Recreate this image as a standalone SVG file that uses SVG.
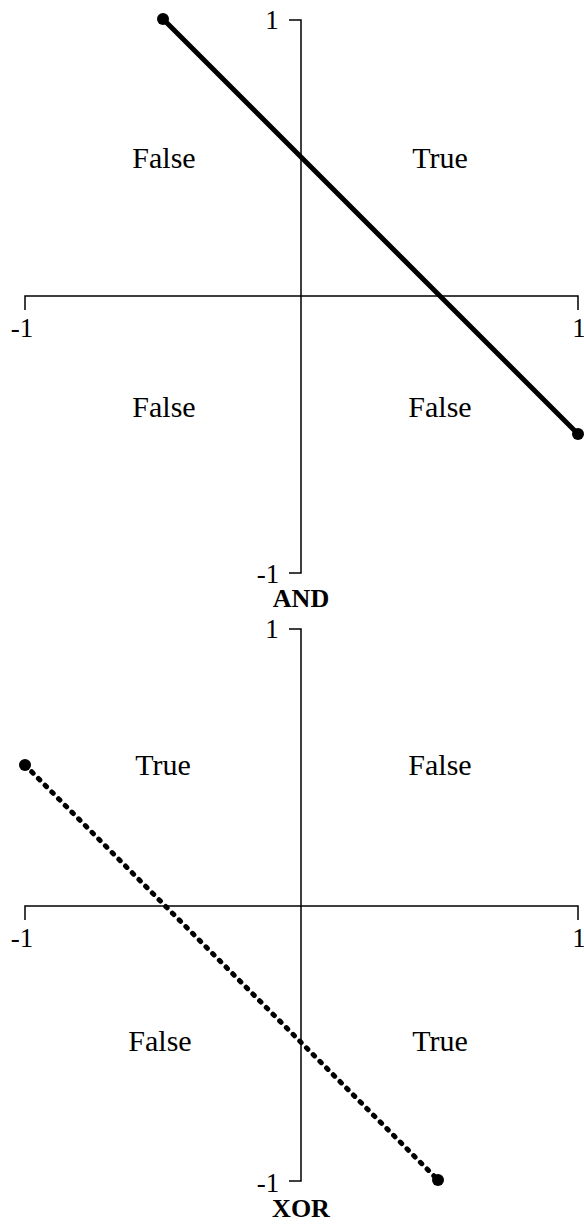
<svg xmlns="http://www.w3.org/2000/svg" width="584" height="1228" viewBox="0 0 584 1228">
<style>
.ax{fill:none;stroke:#000;stroke-width:1.5}
.t{font-family:"Liberation Serif","Times New Roman",serif;fill:#000;text-anchor:middle}
.n{font-size:27px}
.q{font-size:30px}
.b{font-size:26px;font-weight:bold}
.sol{stroke:#000;stroke-width:5;fill:none}
.dot{stroke:#000;stroke-width:5;stroke-dasharray:2 7.5;stroke-linecap:round;fill:none}
</style>
<rect width="584" height="1228" fill="#fff"/>
<g id="and-panel">
<g id="and-axes">
<path class="ax" d="M289 20H301V573H289"/>
<path class="ax" d="M25 310V296H578V310"/>
</g>
<text class="t n" x="272" y="29">1</text>
<text class="t n" x="22" y="337">-1</text>
<text class="t n" x="579" y="337">1</text>
<text class="t n" x="268" y="583">-1</text>
<text class="t b" x="301" y="607">AND</text>
<text class="t q" x="164" y="168">False</text>
<text class="t q" x="440" y="168">True</text>
<text class="t q" x="164" y="417">False</text>
<text class="t q" x="440" y="417">False</text>
</g>
<g id="xor-panel">
<g id="xor-axes">
<path class="ax" d="M289 629H301V1181H289"/>
<path class="ax" d="M25 920V906H578V920"/>
</g>
<text class="t n" x="272" y="638">1</text>
<text class="t n" x="22" y="947">-1</text>
<text class="t n" x="579" y="947">1</text>
<text class="t n" x="268" y="1192">-1</text>
<text class="t b" x="301" y="1217">XOR</text>
<text class="t q" x="163" y="775">True</text>
<text class="t q" x="440" y="775">False</text>
<text class="t q" x="160" y="1051">False</text>
<text class="t q" x="440" y="1051">True</text>
</g>
<g id="connectors">
<line class="sol" x1="163" y1="19" x2="578" y2="434"/>
<circle cx="163" cy="19" r="6"/>
<circle cx="578" cy="434" r="6"/>
<line class="dot" x1="25" y1="765" x2="438" y2="1180"/>
<circle cx="25" cy="765" r="6"/>
<circle cx="438" cy="1180" r="6"/>
</g>
</svg>
